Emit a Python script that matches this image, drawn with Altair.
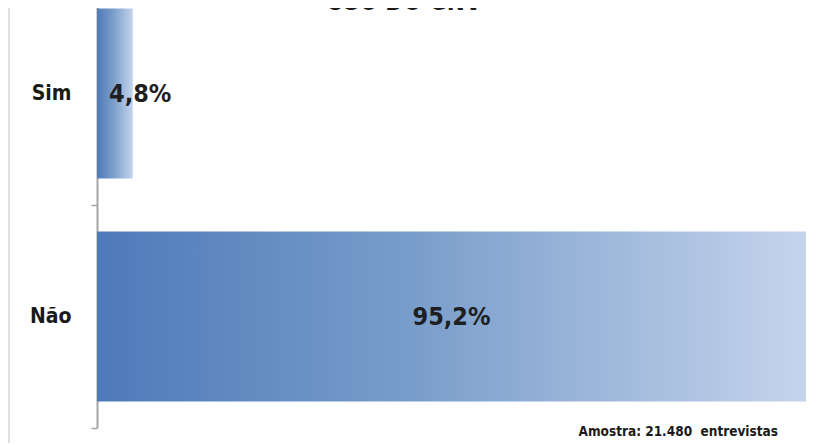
import altair as alt
import pandas as pd

categories = ["Sim", "Não"]
values = [4.8, 95.2]
labels = ["4,8%", "95,2%"]
title_text = "USO DO GNV"
note_text = "Amostra: 21.480\u00a0 entrevistas"

df = pd.DataFrame({"resposta": categories, "pct": values, "rotulo": labels})

FONT = "'Liberation Sans Narrow', 'DejaVu Sans Condensed', 'Liberation Sans', sans-serif"

grad = alt.LinearGradient(
    gradient="linear",
    stops=[
        alt.GradientStop(color="#4e7ab9", offset=0),
        alt.GradientStop(color="#7a9ecb", offset=0.45),
        alt.GradientStop(color="#c5d4ec", offset=1),
    ],
    x1=0, x2=1, y1=0, y2=0,
)

xscale = alt.Scale(domain=[0, 95.2], nice=False, zero=True)
yscale = alt.Scale(domain=categories, range=[-26, 420],
                   paddingInner=0, paddingOuter=0)

y_enc = alt.Y(
    "resposta:N", sort=categories, scale=yscale,
    axis=alt.Axis(
        title=None, tickBand="extent", tickSize=6, labelPadding=20,
        domainColor="#a6a6a6", domainWidth=2, tickColor="#a6a6a6", tickWidth=1.5,
        labelFont=FONT, labelFontSize=21, labelFontWeight="bold",
        labelColor="#1a1a1a", grid=False,
    ),
)

base = alt.Chart(df)

bars = base.mark_bar(color=grad, cornerRadius=0, height=alt.RelativeBandSize(0.762)).encode(
    x=alt.X("pct:Q", scale=xscale, axis=None),
    y=y_enc,
)

big_labels = base.transform_filter("datum.pct > 50").transform_calculate(
    mid="datum.pct / 2"
).mark_text(font=FONT, fontSize=25, fontWeight="bold", color="#1f1f1f",
            align="center", baseline="middle").encode(
    x=alt.X("mid:Q", scale=xscale, axis=None),
    y=alt.Y("resposta:N", sort=categories, scale=yscale),
    text="rotulo:N",
)

small_labels = base.transform_filter("datum.pct <= 50").mark_text(
    font=FONT, fontSize=25, fontWeight="bold", color="#1f1f1f",
    align="left", baseline="middle").encode(
    x=alt.value(12),
    y=alt.Y("resposta:N", sort=categories, scale=yscale),
    text="rotulo:N",
)

deco = alt.Data(values=[{"t": title_text, "n": note_text}])

title = alt.Chart(deco).mark_text(
    font=FONT, fontSize=24, fontWeight="bold", color="#1a1a1a",
    align="center", baseline="alphabetic").encode(
    x=alt.value(307), y=alt.value(2), text="t:N")

note = alt.Chart(deco).mark_text(
    font=FONT, fontSize=13.5, fontWeight="bold", color="#1a1a1a",
    align="right", baseline="alphabetic").encode(
    x=alt.value(681), y=alt.value(428), text="n:N")

border = alt.Chart(deco).mark_rule(color="#d4d4d4", strokeWidth=1.5).encode(
    x=alt.value(-88), y=alt.value(-10), y2=alt.value(440))

chart = alt.layer(border, bars, big_labels, small_labels, title, note).properties(
    width=709, height=420,
    background="white",
    autosize=alt.AutoSizeParams(type="none"),
    padding={"left": 89, "top": 0, "right": 3, "bottom": 15},
).configure_view(strokeWidth=0, stroke="transparent")

chart.save("out.html", embed_options={"renderer": "svg", "actions": False})
